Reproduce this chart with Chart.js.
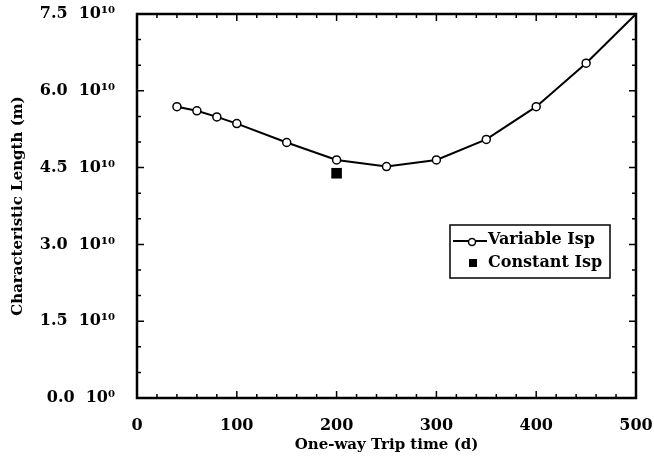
<!DOCTYPE html>
<html>
<head>
<meta charset="utf-8">
<script src="https://cdn.jsdelivr.net/npm/chart.js@4.4.1/dist/chart.umd.min.js"></script>
<style>
  html, body { margin: 0; padding: 0; background: #fff; }
  #wrap { width: 654px; height: 461px; }
</style>
</head>
<body>
<div id="wrap"><canvas id="chart" width="654" height="461"></canvas></div>
<script>
// trip times in days, characteristic length in metres
const tripDays = [40, 60, 80, 100, 150, 200, 250, 300, 350, 400, 450, 500]
const variableIsp = [5.69e10, 5.61e10, 5.49e10, 5.36e10, 4.99e10, 4.65e10, 4.52e10, 4.65e10, 5.05e10, 5.69e10, 6.54e10, 7.5e10]
const constantDays = [200]
const constantIsp = [4.39e10]
const xTicks = [0, 100, 200, 300, 400, 500]
const yTicks = [0, 1.5e10, 3.0e10, 4.5e10, 6.0e10, 7.5e10]

const serif = 'DejaVu Serif'

// tick marks and frame drawn on all four sides, pointing inward
const framePlugin = {
  id: 'frame',
  afterDraw(chart) {
    const c = chart.ctx
    const a = chart.chartArea
    const xs = chart.scales.x, ys = chart.scales.y
    c.save()
    c.strokeStyle = '#000'
    c.lineWidth = 1.5
    c.beginPath()
    for (let d = 20; d < 500; d += 20) {
      const px = xs.getPixelForValue(d)
      const len = d % 100 === 0 ? 7 : 4
      c.moveTo(px, a.bottom); c.lineTo(px, a.bottom - len)
      c.moveTo(px, a.top); c.lineTo(px, a.top + len)
    }
    for (let v = 0.5e10; v < 7.5e10; v += 0.5e10) {
      const py = ys.getPixelForValue(v)
      const len = Math.round(v / 0.5e10) % 3 === 0 ? 7 : 4
      c.moveTo(a.left, py); c.lineTo(a.left + len, py)
      c.moveTo(a.right, py); c.lineTo(a.right - len, py)
    }
    c.stroke()
    c.lineWidth = 2.5
    c.strokeRect(a.left, a.top, a.right - a.left, a.bottom - a.top)

    // legend box
    const bx = 450, by = 225, bw = 160, bh = 53
    c.lineWidth = 1.5
    c.strokeRect(bx, by, bw, bh)
    c.lineWidth = 2
    c.beginPath()
    c.moveTo(bx + 3, by + 16); c.lineTo(bx + 37, by + 16)
    c.stroke()
    c.beginPath()
    c.arc(bx + 22, by + 17, 3.5, 0, Math.PI * 2)
    c.fillStyle = '#fff'
    c.fill()
    c.lineWidth = 1.5
    c.stroke()
    c.fillStyle = '#000'
    c.fillRect(bx + 19, by + 34, 8, 8)
    c.font = 'bold 16px "' + serif + '"'
    c.textBaseline = 'middle'
    c.textAlign = 'left'
    c.fillText('Variable Isp', bx + 38, by + 15)
    c.fillText('Constant Isp', bx + 38, by + 38)
    c.restore()
  }
}

const data = {
  datasets: [{
    label: 'Variable Isp',
    data: tripDays.map((d, i) => ({ x: d, y: variableIsp[i] })),
    showLine: true,
    borderColor: '#000',
    borderWidth: 2,
    pointRadius: ctx => (ctx.raw && ctx.raw.x === 500 ? 0 : 4),
    pointBorderWidth: 1.5,
    pointBackgroundColor: '#fff',
    pointBorderColor: '#000',
    tension: 0,
    clip: false
  }, {
    label: 'Constant Isp',
    data: constantDays.map((d, i) => ({ x: d, y: constantIsp[i] })),
    showLine: false,
    pointStyle: 'rect',
    pointRadius: 7.5,
    pointBackgroundColor: '#000',
    pointBorderColor: '#000',
    borderWidth: 0
  }]
}

const config = {
  type: 'scatter',
  data: data,
  options: {
    responsive: false,
    animation: false,
    layout: { padding: { top: 14, right: 18, left: 0, bottom: 0 } },
    scales: {
      x: {
        type: 'linear',
        min: 0, max: 500,
        afterBuildTicks: s => { s.ticks = xTicks.map(v => ({ value: v })) },
        afterFit: s => { s.height = 63; s.paddingLeft = 0; s.paddingRight = 0 },
        grid: { display: false, drawTicks: false },
        border: { display: false },
        ticks: {
          color: '#000',
          padding: 18,
          maxRotation: 0,
          font: { family: serif, weight: 'bold', size: 16 }
        },
        title: {
          display: true,
          text: 'One-way Trip time (d)',
          color: '#000',
          padding: { top: 0, bottom: 7 },
          font: { family: serif, weight: 'bold', size: 15 }
        }
      },
      y: {
        min: 0, max: 7.5e10,
        afterBuildTicks: s => { s.ticks = yTicks.map(v => ({ value: v })) },
        afterFit: s => { s.width = 137; s.paddingTop = 0; s.paddingBottom = 0 },
        grid: { display: false, drawTicks: false },
        border: { display: false },
        ticks: {
          color: '#000',
          padding: 22,
          font: { family: serif, weight: 'bold', size: 16 },
          callback: v => (v / 1e10).toFixed(1) + '  10' + (v === 0 ? '\u2070' : '\u00b9\u2070')
        },
        title: {
          display: true,
          text: 'Characteristic Length (m)',
          color: '#000',
          padding: { top: 9, bottom: 0 },
          font: { family: serif, weight: 'bold', size: 15 }
        }
      }
    },
    plugins: {
      legend: { display: false },
      tooltip: { enabled: false }
    }
  },
  plugins: [framePlugin]
}

var myChart = new Chart(document.getElementById('chart'), config)
</script>
</body>
</html>
